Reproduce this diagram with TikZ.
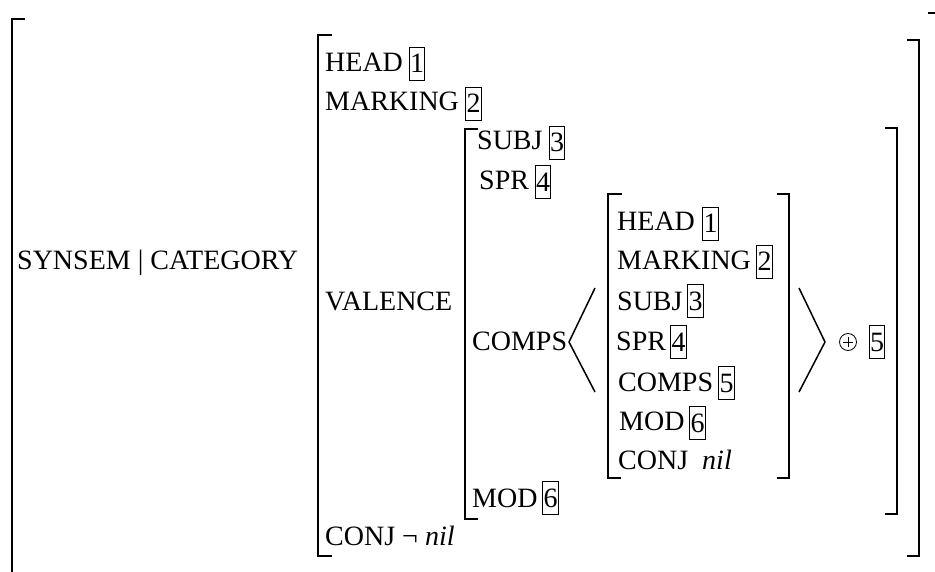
\documentclass[tikz,border=0pt]{standalone}
\usepackage{fontspec}
\setmainfont{Liberation Serif}
\usetikzlibrary{calc}
\begin{document}
\begin{tikzpicture}[x=1pt,y=-1pt,
  lab/.style={anchor=base west,inner sep=0pt,font=\fontsize{28}{33}\selectfont},
  tag/.style={draw,line width=0.9pt,inner sep=0pt,minimum width=15.5pt,minimum height=33pt,font=\fontsize{28}{33}\selectfont},
  brk/.style={line width=2.4pt,line cap=rect},
  ang/.style={line width=1.5pt}]
\useasboundingbox (0,0) rectangle (935,572);
% outer brackets
\draw[brk] (24,19) -- (12,19) -- (12,575);
\draw[brk] (929,13) -- (936,13);
% label
\node[lab] (sc) at (17,270) {SYNSEM | CATEGORY};
% CATEGORY brackets
\draw[brk] (331,35) -- (318,35) -- (318,556) -- (331,556);
\draw[brk] (908,40) -- (919,40) -- (919,556) -- (908,556);
\node[lab] (head) at (325,72) {HEAD};
\node[tag] (t1) at (417,63.5) {1};
\node[lab] (mark) at (325,111) {MARKING};
\node[tag] (t2) at (473.5,103.5) {2};
\node[lab] (val) at (325,310) {VALENCE};
\node[lab] (conj) at (325,545) {CONJ ¬ \textit{nil}};
% VALENCE brackets
\draw[brk] (477,129) -- (465,129) -- (465,519) -- (477,519);
\draw[brk] (886,128) -- (897,128) -- (897,514) -- (886,514);
\node[lab] (subj) at (477,150) {SUBJ};
\node[tag] (t3) at (557,142.5) {3};
\node[lab] (spr) at (479,190) {SPR};
\node[tag] (t4) at (543,182) {4};
\node[lab] (comps) at (472,350) {COMPS};
\node[lab] (mod) at (472,507) {MOD};
\node[tag] (t6) at (550.5,498) {6};
% angle brackets
\draw[ang] (595,288) -- (569,342) -- (595,392);
\draw[ang] (799,288) -- (825,342) -- (799,392);
% inner AVM brackets
\draw[brk] (621,194) -- (608,194) -- (608,478) -- (620,478);
\draw[brk] (778,194) -- (789,194) -- (789,478) -- (778,478);
\node[lab] (ihead) at (617,231) {HEAD};
\node[tag] (it1) at (710.5,223.5) {1};
\node[lab] (imark) at (617,270) {MARKING};
\node[tag] (it2) at (764.5,261.5) {2};
\node[lab] (isubj) at (617,310) {SUBJ};
\node[tag] (it3) at (695.5,301) {3};
\node[lab] (ispr) at (616,350) {SPR};
\node[tag] (it4) at (678.5,342) {4};
\node[lab] (icomps) at (618,391) {COMPS};
\node[tag] (it5) at (726.5,383) {5};
\node[lab] (imod) at (619,430) {MOD};
\node[tag] (it6) at (697.5,423) {6};
\node[lab] (iconj) at (618,469) {CONJ\hspace{14pt}\textit{nil}};
% append operator
\node[circle,draw,line width=0.8pt,minimum size=17pt,inner sep=0pt] (plus) at (848,342) {};
\draw[line width=0.8pt] ($(plus.west)+(3.5,0)$) -- ($(plus.east)+(-3.5,0)$);
\draw[line width=0.8pt] ($(plus.north)+(0,3.5)$) -- ($(plus.south)+(0,-3.5)$);
\node[tag] (t5) at (877,342) {5};
\end{tikzpicture}
\end{document}
